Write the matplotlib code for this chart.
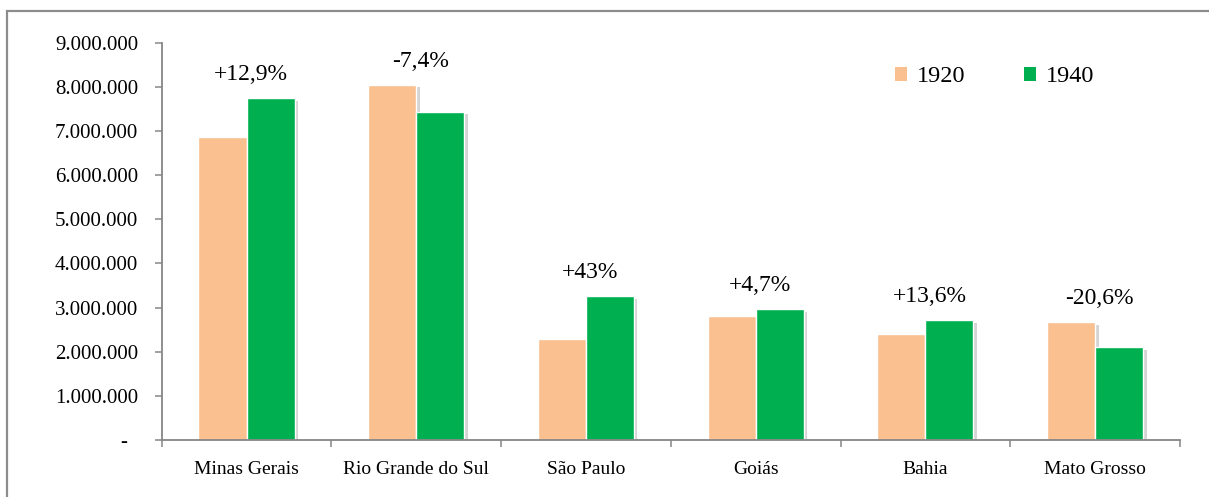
import numpy as np
import matplotlib.pyplot as plt
from matplotlib import patheffects
from matplotlib.patches import Patch, Rectangle
from matplotlib.ticker import FuncFormatter, FixedLocator

plt.rcParams['font.family'] = ['Liberation Serif', 'DejaVu Serif']

states = ["Minas Gerais", "Rio Grande do Sul", "São Paulo", "Goiás", "Bahia", "Mato Grosso"]
pop_1920 = [6_870_000, 8_050_000, 2_280_000, 2_820_000, 2_410_000, 2_670_000]
pop_1940 = [7_740_000, 7_440_000, 3_260_000, 2_960_000, 2_720_000, 2_110_000]
changes = ["+12,9%", "-7,4%", "+43%", "+4,7%", "+13,6%", "-20,6%"]

COLOR_1920 = "#FAC090"
COLOR_1940 = "#00B050"
AXIS_GRAY = "#868686"


def fmt_thousands(v, pos):
    if v == 0:
        return "-  "
    return f"{int(v):,}".replace(",", ".")


fig = plt.figure(figsize=(12.09, 4.97), dpi=100)
ax = fig.add_axes([0.1337, 0.1147, 0.976 - 0.1337, 0.914 - 0.1147])

# outer chart frame, open to the right and bottom
fig.patches.append(Rectangle((7 / 1209, -0.2), 1.5, 0.2 + 0.978, transform=fig.transFigure,
                             fill=False, edgecolor="#8c8c8c", linewidth=1.6, zorder=0))

x = np.arange(len(states))
width = 0.283
shadow = [patheffects.SimplePatchShadow(offset=(2.5, -2), shadow_rgbFace="0.45", alpha=0.3),
          patheffects.Normal()]

b1 = ax.bar(x - width / 2, pop_1920, width, color=COLOR_1920, edgecolor="white", linewidth=1.0)
b2 = ax.bar(x + width / 2, pop_1940, width, color=COLOR_1940, edgecolor="white", linewidth=1.0)
for bar in list(b1) + list(b2):
    bar.set_path_effects(shadow)

for i, label in enumerate(changes):
    top = max(pop_1920[i], pop_1940[i])
    ax.annotate(label, (x[i], top), xytext=(3, 17), textcoords="offset points",
                ha="center", va="center", fontsize=17)

ax.set_xlim(-0.5, len(states) - 0.5)
ax.set_ylim(0, 9_000_000)
ax.set_yticks(np.arange(0, 9_000_001, 1_000_000))
ax.yaxis.set_major_formatter(FuncFormatter(fmt_thousands))

ax.set_xticks(x)
ax.set_xticklabels(states)
ax.xaxis.set_minor_locator(FixedLocator(np.arange(-0.5, len(states), 1.0)))

for side in ("top", "right"):
    ax.spines[side].set_visible(False)
for side in ("left", "bottom"):
    ax.spines[side].set_color(AXIS_GRAY)
    ax.spines[side].set_linewidth(1.3)

ax.tick_params(axis="y", direction="out", length=5, width=1.1, color=AXIS_GRAY,
               labelsize=15, pad=12)
ax.tick_params(axis="x", which="major", length=0, labelsize=14, pad=15)
ax.tick_params(axis="x", which="minor", direction="out", length=5, width=1.1, color=AXIS_GRAY)

handles = [Patch(facecolor=COLOR_1920, edgecolor="none"), Patch(facecolor=COLOR_1940, edgecolor="none")]
ax.legend(handles, ["1920", "1940"], ncol=2, frameon=False, fontsize=17.5,
          handlelength=0.5, handleheight=0.5, handletextpad=0.4, columnspacing=2.4,
          loc="center", bbox_to_anchor=(0.818, 0.914))

fig.savefig("out.png", dpi=100)
